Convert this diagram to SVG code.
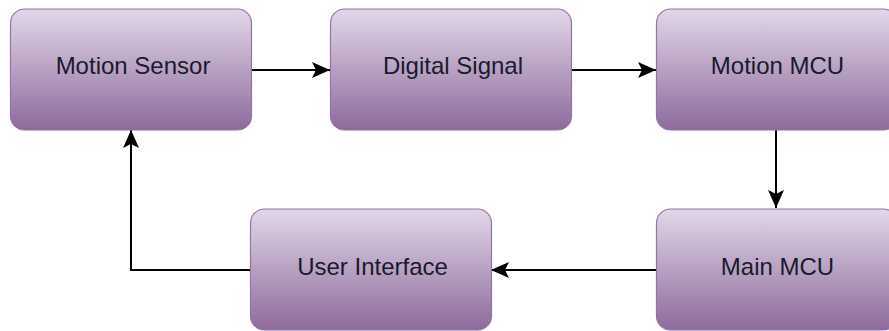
<svg xmlns="http://www.w3.org/2000/svg" width="889" height="331" viewBox="0 0 889 331">
<defs>
<linearGradient id="g" x1="0" y1="0" x2="0" y2="1">
<stop offset="0" stop-color="#e2d7e8"/>
<stop offset="1" stop-color="#8d6b9c"/>
</linearGradient>
<marker id="arr" viewBox="0 0 18 16" refX="18" refY="8" markerWidth="18" markerHeight="16" markerUnits="userSpaceOnUse" orient="auto">
<path d="M0,0 L18,8 L0,16 L4,8 Z" fill="#000"/>
</marker>
<style>
.box{fill:url(#g);stroke:#9673a6;stroke-width:1.2}
.lbl{font-family:"Liberation Sans",Arial,sans-serif;font-size:24px;fill:#1a1a2e;text-anchor:middle}
.edge{fill:none;stroke:#000;stroke-width:2}
</style>
</defs>
<rect width="889" height="331" fill="#fff"/>
<g id="connectors">
<path class="edge" d="M251,70 H330" marker-end="url(#arr)"/>
<path class="edge" d="M571,70 H656" marker-end="url(#arr)"/>
<path class="edge" d="M776,130 V208" marker-end="url(#arr)"/>
<path class="edge" d="M656,270 H491" marker-end="url(#arr)"/>
<path class="edge" d="M250,270 H131 V130" marker-end="url(#arr)"/>
</g>
<g id="motion-sensor">
<rect class="box" x="10.5" y="9" width="241" height="121" rx="14"/>
<text class="lbl" x="133" y="74">Motion Sensor</text>
</g>
<g id="digital-signal">
<rect class="box" x="330.5" y="9" width="241" height="121" rx="14"/>
<text class="lbl" x="453" y="74">Digital Signal</text>
</g>
<g id="motion-mcu">
<rect class="box" x="656.5" y="9" width="241" height="121" rx="14"/>
<text class="lbl" x="777.5" y="74">Motion MCU</text>
</g>
<g id="main-mcu">
<rect class="box" x="656.5" y="209" width="241" height="121" rx="14"/>
<text class="lbl" x="777.5" y="275">Main MCU</text>
</g>
<g id="user-interface">
<rect class="box" x="250.5" y="209" width="241" height="121" rx="14"/>
<text class="lbl" x="372.5" y="275">User Interface</text>
</g>
</svg>
